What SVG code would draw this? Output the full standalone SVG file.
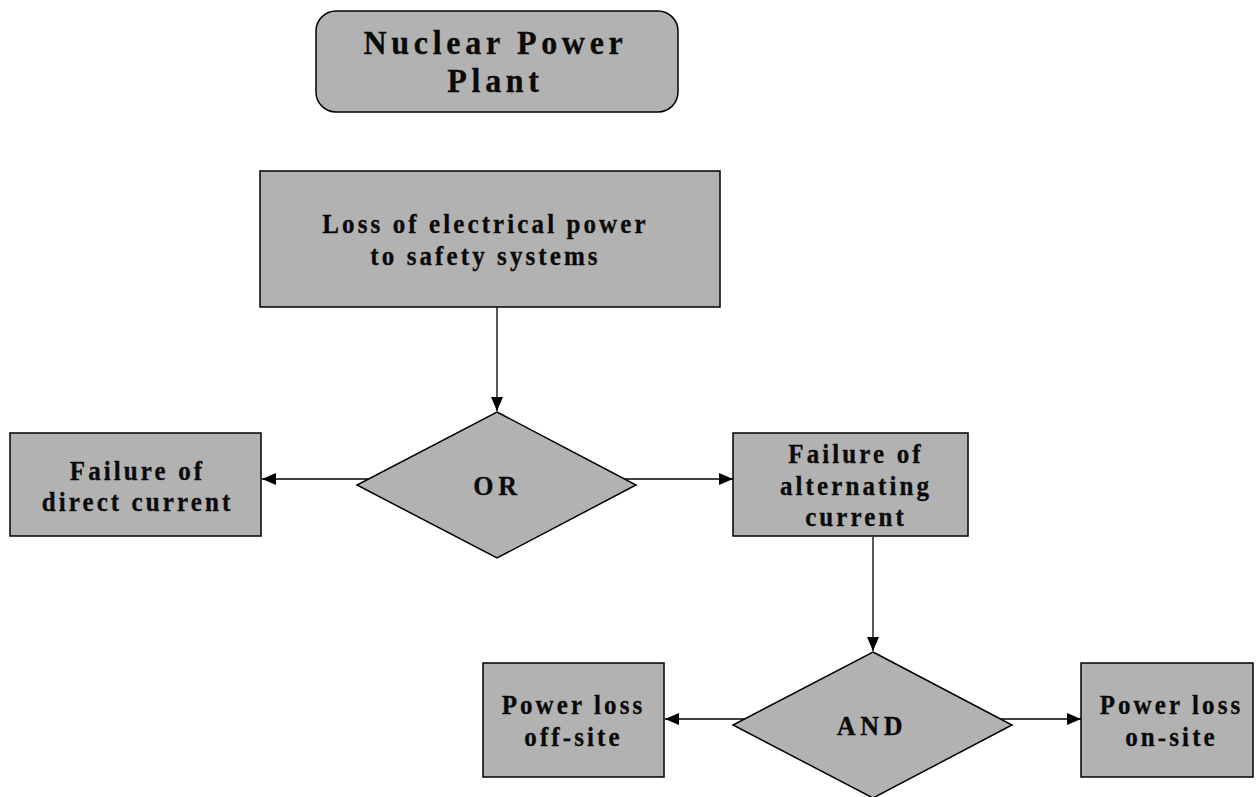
<svg xmlns="http://www.w3.org/2000/svg" width="1258" height="797" viewBox="0 0 1258 797">
<style>
.box{fill:#b2b2b2;stroke:#000;stroke-width:1.5}
.t{font-family:"Liberation Serif","Times New Roman",serif;font-weight:bold;fill:#0a0a0a;stroke:#0a0a0a;stroke-width:0.3;text-anchor:middle}
.t22{font-size:25px;letter-spacing:3.1px}
.t30{font-size:32px;letter-spacing:4.7px}
.t24{font-size:26px;letter-spacing:4.7px}
.c{stroke:#000;stroke-width:1.3;fill:none;marker-end:url(#ah)}
</style>
<defs>
<marker id="ah" markerUnits="userSpaceOnUse" markerWidth="15" markerHeight="13" refX="14" refY="6" orient="auto">
<path d="M0,0 L14,6 L0,12 Z" fill="#000"/>
</marker>
</defs>
<rect width="1258" height="797" fill="#fff"/>
<g id="connectors">
<line class="c" x1="497" y1="307" x2="497" y2="411"/>
<line class="c" x1="369" y1="479" x2="262" y2="479"/>
<line class="c" x1="625" y1="479" x2="733" y2="479"/>
<line class="c" x1="873" y1="537" x2="873" y2="651"/>
<line class="c" x1="745" y1="719" x2="665" y2="719"/>
<line class="c" x1="1001" y1="719" x2="1081" y2="719"/>
</g>
<g id="nuclear">
<rect class="box" x="316" y="11" width="362" height="101" rx="20"/>
<text class="t t30" transform="matrix(1,0,0,1.03,495.5,54)">Nuclear Power</text>
<text class="t t30" transform="matrix(1,0,0,1.03,495.5,92)">Plant</text>
</g>
<g id="loss">
<rect class="box" x="260" y="171" width="460" height="136"/>
<text class="t t22" transform="matrix(1,0,0,1.05,485.5,233)">Loss of electrical power</text>
<text class="t t22" transform="matrix(1,0,0,1.05,485.5,265)">to safety systems</text>
</g>
<g id="or">
<polygon class="box" points="497,412 636,485 497,558 357,485"/>
<text class="t t24" transform="matrix(1,0,0,1.05,497.5,495)">OR</text>
</g>
<g id="dc">
<rect class="box" x="10" y="433" width="251" height="103"/>
<text class="t t22" transform="matrix(1,0,0,1.05,137.5,480)">Failure of</text>
<text class="t t22" transform="matrix(1,0,0,1.05,137.5,511)">direct current</text>
</g>
<g id="ac">
<rect class="box" x="733" y="433" width="235" height="103"/>
<text class="t t22" transform="matrix(1,0,0,1.05,856,463)">Failure of</text>
<text class="t t22" transform="matrix(1,0,0,1.05,856,495)">alternating</text>
<text class="t t22" transform="matrix(1,0,0,1.05,856,526)">current</text>
</g>
<g id="and">
<polygon class="box" points="873,652 1012,725 873,798 733,725"/>
<text class="t t24" transform="matrix(1,0,0,1.05,872,735)">AND</text>
</g>
<g id="offsite">
<rect class="box" x="483" y="663" width="181" height="114"/>
<text class="t t22" transform="matrix(1,0,0,1.05,573.5,714)">Power loss</text>
<text class="t t22" transform="matrix(1,0,0,1.05,573.5,746)">off-site</text>
</g>
<g id="onsite">
<rect class="box" x="1081" y="663" width="172" height="114"/>
<text class="t t22" transform="matrix(1,0,0,1.05,1171.5,714)">Power loss</text>
<text class="t t22" transform="matrix(1,0,0,1.05,1171.5,746)">on-site</text>
</g>
</svg>
